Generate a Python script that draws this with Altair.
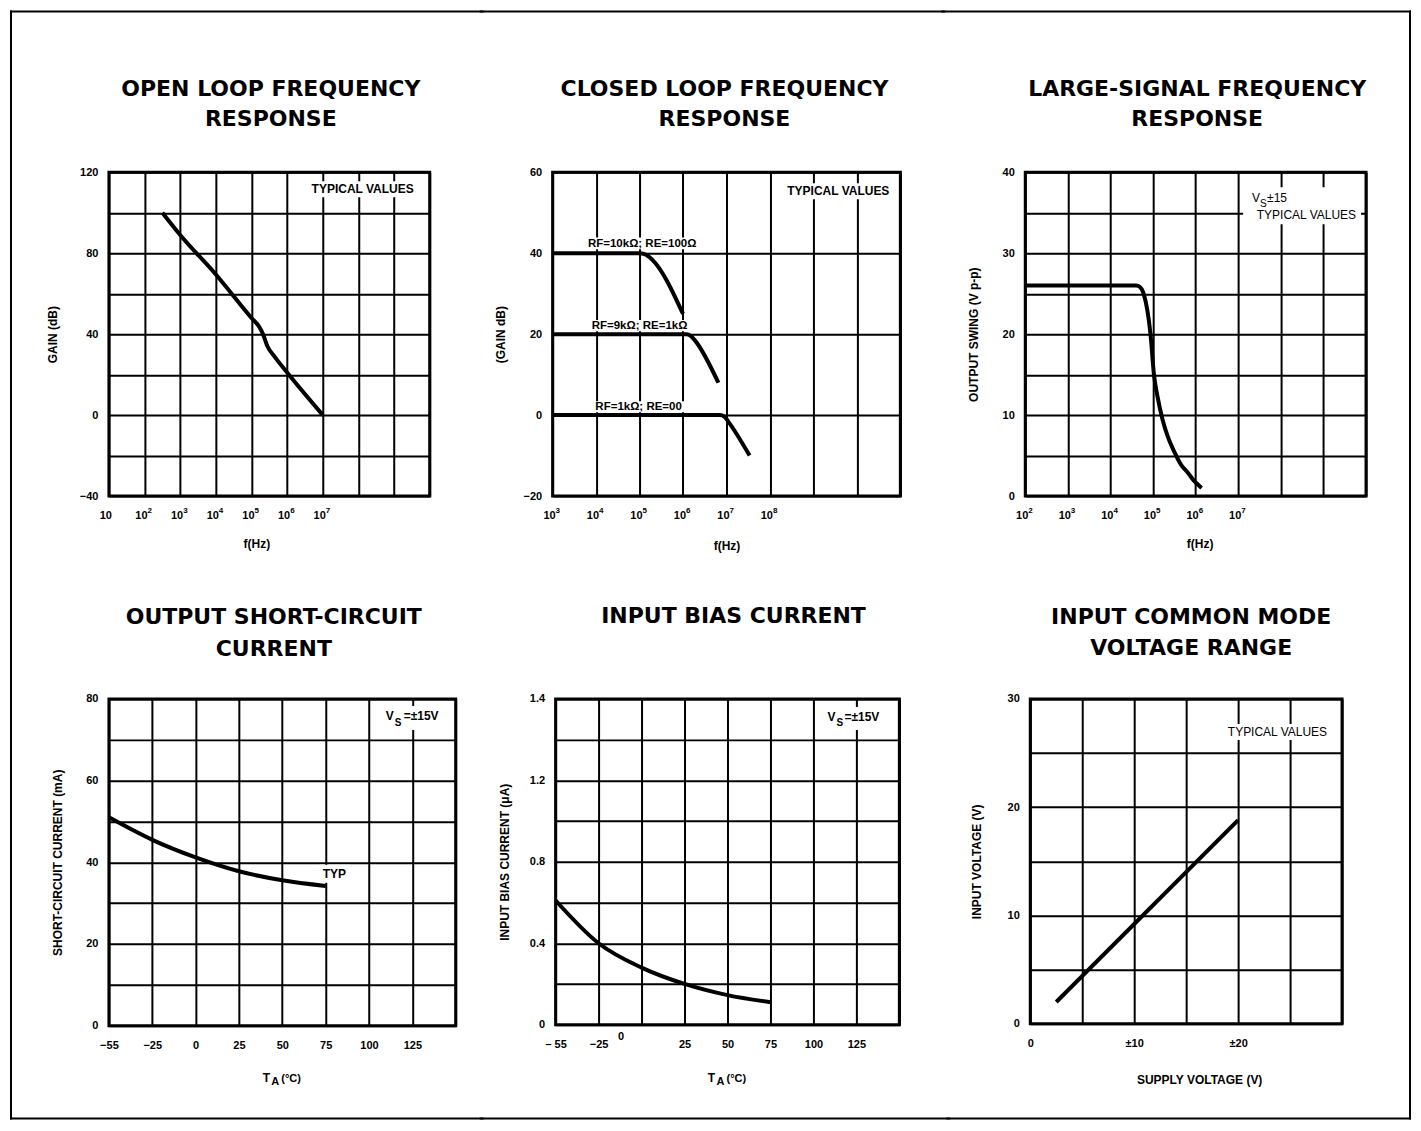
import json
import altair as alt
import pandas as pd

FONT = "Liberation Sans"
TFONT = "DejaVu Sans"

# ---------------- data ----------------
# 1. Open loop frequency response
ol_freq = [316, 1e3, 1e4, 1e5, 1.66e5, 2.1e5, 2.8e5, 4.4e5, 1e6, 1e7]
ol_gain = [100, 89, 69.5, 48, 43.5, 40, 34, 29, 21, 0]
ol_xvals = [1e1, 1e2, 1e3, 1e4, 1e5, 1e6, 1e7, 1e8, 1e9, 1e10]
ol_lab_f = [1e1, 1e2, 1e3, 1e4, 1e5, 1e6, 1e7]
ol_lab_exp = ["", "2", "3", "4", "5", "6", "7"]
ol_yvals = [-40, -20, 0, 20, 40, 60, 80, 100, 120]
ol_ylabels = ["−40", "", "0", "", "40", "", "80", "", "120"]

# 2. Closed loop frequency response
cl_names = ["RF=10kΩ; RE=100Ω", "RF=9kΩ; RE=1kΩ", "RF=1kΩ; RE=00"]
cl_freq_a = [1e3, 1e5, 1.3e5, 1.6e5, 2e5, 1e6]
cl_gain_a = [40, 40, 39.8, 39.2, 38.3, 25]
cl_freq_b = [1e3, 1.2e6, 1.5e6, 1.9e6, 6.5e6]
cl_gain_b = [20, 20, 19.6, 18.4, 8]
cl_freq_c = [1e3, 7e6, 9e6, 1.1e7, 3.4e7]
cl_gain_c = [0, 0, -0.4, -1.6, -10]
cl_label_f = [1.15e5, 1.0e5, 0.95e5]
cl_label_g = [42.4, 22.05, 2.05]
cl_mask_f0 = [5.0e3, 6.0e3, 6.6e3]
cl_mask_f1 = [2.6e6, 1.66e6, 1.45e6]
cl_mask_g0 = [41.0, 20.7, 0.7]
cl_mask_g1 = [43.9, 23.5, 3.4]
cl_xvals = [1e3, 1e4, 1e5, 1e6, 1e7, 1e8, 1e9, 1e10, 1e11]
cl_lab_f = [1e3, 1e4, 1e5, 1e6, 1e7, 1e8]
cl_lab_exp = ["3", "4", "5", "6", "7", "8"]
cl_yvals = [-20, 0, 20, 40, 60]
cl_ylabels = ["−20", "0", "20", "40", "60"]

# 3. Large-signal frequency response
ls_freq = [1e2, 1e3, 1e4, 4e4, 5e4, 6e4, 8.7e4, 1.05e5, 1.26e5, 1.66e5, 2.2e5,
           3.2e5, 4.5e5, 6.5e5, 9.1e5, 1.38e6]
ls_swing = [26, 26, 26, 26, 25.8, 25, 20, 15, 12.4, 9.5, 7.4, 5.4, 3.9, 2.9, 1.9, 1.0]
ls_xvals = [1e2, 1e3, 1e4, 1e5, 1e6, 1e7, 1e8, 1e9, 1e10]
ls_lab_f = [1e2, 1e3, 1e4, 1e5, 1e6, 1e7]
ls_lab_exp = ["2", "3", "4", "5", "6", "7"]
ls_yvals = [0, 5, 10, 15, 20, 25, 30, 35, 40]
ls_ylabels = ["0", "", "10", "", "20", "", "30", "", "40"]

# 4. Output short-circuit current
sc_temp = [-55, -25, 0, 25, 50, 75]
sc_current = [51, 45.5, 41.2, 37.8, 35.6, 34.2]
t_xvals = [-55, -25, 0, 25, 50, 75, 100, 125, 150]
sc_xlabels = ["−55", "−25", "0", "25", "50", "75", "100", "125", ""]
sc_yvals = [0, 10, 20, 30, 40, 50, 60, 70, 80]
sc_ylabels = ["0", "", "20", "", "40", "", "60", "", "80"]

# 5. Input bias current
ib_temp = [-55, -25, 0, 25, 50, 75]
ib_current = [0.61, 0.40, 0.28, 0.20, 0.145, 0.11]
ib_xlabels = ["– 55", "−25", "0", "25", "50", "75", "100", "125", ""]
ib_yvals = [0, 0.2, 0.4, 0.6, 0.8, 1.0, 1.2, 1.3, 1.4]
ib_ylabels = ["0", "", "0.4", "", "0.8", "", "1.2", "", "1.4"]

# 6. Input common mode voltage range
cm_supply = [2.5, 20]
cm_input = [2, 18.8]
cm_xvals = [0, 5, 10, 15, 20, 25, 30]
cm_xlabels = ["0", "", "±10", "", "±20", "", ""]
cm_yvals = [0, 5, 10, 15, 20, 25, 30]
cm_ylabels = ["0", "", "10", "", "20", "", "30"]

titles = [["OPEN LOOP FREQUENCY", "RESPONSE"],
          ["CLOSED LOOP FREQUENCY", "RESPONSE"],
          ["LARGE-SIGNAL FREQUENCY", "RESPONSE"],
          ["OUTPUT SHORT-CIRCUIT", "CURRENT"],
          ["INPUT BIAS CURRENT"],
          ["INPUT COMMON MODE", "VOLTAGE RANGE"]]

# ---------------- layout ----------------
W1, H1 = 321, 324
W2, H2 = 348, 324
W3, H3 = 341, 324
W4, H4 = 347, 327
W5, H5 = 344, 326
W6, H6 = 312, 325

# plot origins on the page, and the frame / cell edges on the page
ORG = [(108, 171), (550, 171), (1021, 171), (108, 696), (553, 696), (1026, 696)]
COLS1 = [8, 480, 940, 1408]
COLS2 = [8, 480, 945, 1408]
ROWS = [8, 580, 1118]
E = 2   # bounds growth of a 2px rule
OV = 4  # overlap of frame pieces at joints (taken back by a negative spacing)

LINE = dict(color="black", strokeWidth=4, interpolate="monotone")


def lab_expr(values, labels):
    return "%s[indexof(%s, datum.value)]" % (
        json.dumps(labels, ensure_ascii=False), json.dumps(values))


def x_axis(values, labels, title, W, dx=0, ty=47, **kw):
    if labels is None:
        return alt.Axis(values=values, labels=False, title=title,
                        titleX=W / 2 + dx, titleY=ty, titleAlign="center",
                        titleBaseline="middle", **kw)
    return alt.Axis(values=values, labelExpr=lab_expr(values, labels), title=title,
                    titleX=W / 2 + dx, titleY=ty, titleAlign="center",
                    titleBaseline="middle", labelPadding=14, **kw)


def y_axis(values, labels, title, H, tx=-54, **kw):
    return alt.Axis(values=values, labelExpr=lab_expr(values, labels), title=title,
                    titleX=tx, titleY=H / 2, titleAlign="center", titleBaseline="middle",
                    titleAngle=270, labelPadding=11, **kw)


def one():
    return alt.Data(values=[{}])


def ptext(txt, x, y, size=11, align="left", weight="bold", font=FONT):
    return alt.Chart(one()).mark_text(
        text=txt, align=align, baseline="middle", fontSize=size, fontWeight=weight,
        font=font, color="black").encode(x=alt.value(x), y=alt.value(y))


def mask(x0, x1, y0, y1):
    return alt.Chart(one()).mark_rect(color="white").encode(
        x=alt.value(x0), x2=alt.value(x1), y=alt.value(y0), y2=alt.value(y1))


def hrule(org, y, xa, xb, color="black"):
    ox, oy = org
    return alt.Chart(one()).mark_rule(color=color, strokeWidth=2, strokeCap="square").encode(
        x=alt.value(xa - ox), x2=alt.value(xb - ox), y=alt.value(y - oy))


def vrule(org, x, ya, yb, color="black"):
    ox, oy = org
    return alt.Chart(one()).mark_rule(color=color, strokeWidth=2, strokeCap="square").encode(
        x=alt.value(x - ox), y=alt.value(ya - oy), y2=alt.value(yb - oy))


def heading(lines, cx, ys):
    return [ptext(t, cx, y, size=22, align="center", font=TFONT) for t, y in zip(lines, ys)]


def pow_labels(X, H, freqs, exps):
    """Tick labels '10' with a raised exponent, placed through the x scale."""
    d = pd.DataFrame({"f": freqs, "b": ["10"] * len(freqs), "e": exps})
    base = alt.Chart(d).mark_text(align="right", baseline="middle", dx=3, fontSize=11,
                                  fontWeight="bold", font=FONT, color="black").encode(
        x=X, y=alt.value(H + 20), text="b:N")
    sup = alt.Chart(d).mark_text(align="left", baseline="middle", dx=3, fontSize=8,
                                 fontWeight="bold", font=FONT, color="black").encode(
        x=X, y=alt.value(H + 15), text="e:N")
    return [base, sup]


# ---- panel 1 ----
o = ORG[0]
sx1 = alt.Scale(type="log", domain=[10, 1e10], nice=False)
sy1 = alt.Scale(domain=[-40, 120], nice=False, zero=False)
ax1 = x_axis(ol_xvals, None, "f(Hz)", W1, dx=-13)
ay1 = y_axis(ol_yvals, ol_ylabels, "GAIN (dB)", H1, tx=-56)
X1 = alt.X("f:Q", scale=sx1, axis=ax1)
df1 = pd.DataFrame({"f": ol_freq, "g": ol_gain})
line1 = alt.Chart(df1).mark_line(**LINE).encode(
    x=X1, y=alt.Y("g:Q", scale=sy1, axis=ay1))
p1 = alt.layer(
    mask(198, 309, 9, 25), line1, *pow_labels(X1, H1, ol_lab_f, ol_lab_exp),
    ptext("TYPICAL VALUES", 305, 17, size=12, align="right"),
    *heading(titles[0], 162, [-83, -53]),
    vrule(o, COLS1[0] + E, ROWS[0] + E, ROWS[1] - E + OV),
    hrule(o, ROWS[0] + E, COLS1[0] + E, COLS1[1] - E + OV),
).properties(width=W1, height=H1)

# ---- panel 2 ----
o = ORG[1]
sx2 = alt.Scale(type="log", domain=[1e3, 1e11], nice=False)
sy2 = alt.Scale(domain=[-20, 60], nice=False, zero=False)
ax2 = x_axis(cl_xvals, None, "f(Hz)", W2, dx=0, ty=49)
ay2 = y_axis(cl_yvals, cl_ylabels, "(GAIN dB)", H2, tx=-52)
rows = []
for name, fs, gs in zip(cl_names, [cl_freq_a, cl_freq_b, cl_freq_c],
                        [cl_gain_a, cl_gain_b, cl_gain_c]):
    rows += [{"s": name, "f": f, "g": g} for f, g in zip(fs, gs)]
df2 = pd.DataFrame(rows)
lab2 = pd.DataFrame({"s": cl_names, "f": cl_label_f, "g": cl_label_g})
msk2 = pd.DataFrame({"f": cl_mask_f0, "f2": cl_mask_f1, "g": cl_mask_g0, "g2": cl_mask_g1})
X2 = alt.X("f:Q", scale=sx2, axis=ax2)
Y2 = alt.Y("g:Q", scale=sy2, axis=ay2)
mask2 = alt.Chart(msk2).mark_rect(color="white").encode(x=X2, x2="f2:Q", y=Y2, y2="g2:Q")
line2 = alt.Chart(df2).mark_line(**LINE).encode(x=X2, y=Y2, detail="s:N")
text2 = alt.Chart(lab2).mark_text(font=FONT, fontSize=11.5, fontWeight="bold", color="black",
                                  align="center", baseline="middle").encode(x=X2, y=Y2, text="s:N")
p2 = alt.layer(
    mask(225, 341, 11, 27), mask2, line2, text2,
    *pow_labels(X2, H2, cl_lab_f, cl_lab_exp),
    ptext("TYPICAL VALUES", 337, 19, size=12, align="right"),
    *heading(titles[1], 172, [-83, -53]),
    hrule(o, ROWS[0] + E, COLS1[1] + E - OV, COLS1[2] - E + OV),
).properties(width=W2, height=H2)

# ---- panel 3 ----
o = ORG[2]
sx3 = alt.Scale(type="log", domain=[1e2, 1e10], nice=False)
sy3 = alt.Scale(domain=[0, 40], nice=False, zero=False)
ax3 = x_axis(ls_xvals, None, "f(Hz)", W3, dx=4)
ay3 = y_axis(ls_yvals, ls_ylabels, "OUTPUT SWING (V p-p)", H3, tx=-52)
X3 = alt.X("f:Q", scale=sx3, axis=ax3)
df3 = pd.DataFrame({"f": ls_freq, "v": ls_swing})
line3 = alt.Chart(df3).mark_line(**LINE).encode(
    x=X3, y=alt.Y("v:Q", scale=sy3, axis=ay3))
p3 = alt.layer(
    mask(218, 336, 15, 52), line3, *pow_labels(X3, H3, ls_lab_f, ls_lab_exp),
    ptext("V", 227, 26, size=12, weight="normal"),
    ptext("S", 235, 32, size=10, weight="normal"),
    ptext("±15", 242, 26, size=12, weight="normal"),
    ptext("TYPICAL VALUES", 331, 43, size=12, align="right", weight="normal"),
    *heading(titles[2], 172, [-83, -53]),
    hrule(o, ROWS[0] + E, COLS1[2] + E - OV, COLS1[3] - E),
    vrule(o, COLS1[3] - E, ROWS[0] + E, ROWS[1] - E + OV),
).properties(width=W3, height=H3)

# ---- panel 4 ----
o = ORG[3]
sx4 = alt.Scale(domain=[-55, -25, 150], range=[0, W4 / 8, W4], nice=False, zero=False)
sy4 = alt.Scale(domain=[0, 80], nice=False, zero=False)
ax4 = x_axis(t_xvals, sc_xlabels, "", W4)
ay4 = y_axis(sc_yvals, sc_ylabels, "SHORT-CIRCUIT CURRENT (mA)", H4, tx=-51)
df4 = pd.DataFrame({"t": sc_temp, "c": sc_current})
line4 = alt.Chart(df4).mark_line(**LINE).encode(
    x=alt.X("t:Q", scale=sx4, axis=ax4), y=alt.Y("c:Q", scale=sy4, axis=ay4))
cx4 = W4 / 2
p4 = alt.layer(
    mask(273, 336, 7, 31), mask(211, 241, 166, 184), line4,
    ptext("V", 277, 17, size=12), ptext("S", 286, 24, size=10),
    ptext("=±15V", 295, 17, size=12),
    ptext("TYP", 214, 175, size=12),
    ptext("T", cx4 - 16, H4 + 52, size=12, align="center"),
    ptext("A", cx4 - 7, H4 + 56, size=11, align="center"),
    ptext("(°C)", cx4 - 1, H4 + 53, size=11),
    *heading(titles[3], 165, [-82, -50]),
    vrule(o, COLS2[0] + E, ROWS[1] + E - OV, ROWS[2] - E),
    hrule(o, ROWS[2] - E, COLS2[0] + E, COLS2[1] - E + OV),
).properties(width=W4, height=H4)

# ---- panel 5 ----
o = ORG[4]
sx5 = alt.Scale(domain=[-55, -25, 150], range=[0, W5 / 8, W5], nice=False, zero=False)
sy5 = alt.Scale(domain=[0, 1.2, 1.4], range=[H5, H5 / 4, 0], nice=False, zero=False)
ax5 = alt.Axis(values=t_xvals, labelExpr=lab_expr(t_xvals, ib_xlabels), title="",
               labelPadding={"condition": {"test": "datum.value === 0", "value": 6}, "value": 14},
               labelOffset={"condition": {"test": "datum.value === 0", "value": -21}, "value": 0})
ay5 = y_axis(ib_yvals, ib_ylabels, "INPUT BIAS CURRENT (μA)", H5, tx=-51)
df5 = pd.DataFrame({"t": ib_temp, "i": ib_current})
line5 = alt.Chart(df5).mark_line(**LINE).encode(
    x=alt.X("t:Q", scale=sx5, axis=ax5), y=alt.Y("i:Q", scale=sy5, axis=ay5))
cx5 = W5 / 2
p5 = alt.layer(
    mask(268, 333, 8, 31), line5,
    ptext("V", 272, 18, size=12), ptext("S", 281, 24, size=10),
    ptext("=±15V", 289, 18, size=12),
    ptext("T", cx5 - 16, H5 + 53, size=12, align="center"),
    ptext("A", cx5 - 7, H5 + 57, size=11, align="center"),
    ptext("(°C)", cx5 - 1, H5 + 54, size=11),
    *heading(titles[4], 178, [-83]),
    hrule(o, ROWS[1] + E - OV, COLS2[1] + E, COLS2[2] - E, color="white"),
    hrule(o, ROWS[2] - E, COLS2[1] + E - OV, COLS2[2] - E + OV),
).properties(width=W5, height=H5)

# ---- panel 6 ----
o = ORG[5]
sx6 = alt.Scale(domain=[0, 30], nice=False, zero=False)
sy6 = alt.Scale(domain=[0, 30], nice=False, zero=False)
ax6 = x_axis(cm_xvals, cm_xlabels, "SUPPLY VOLTAGE (V)", W6, dx=13, ty=56)
ay6 = y_axis(cm_yvals, cm_ylabels, "INPUT VOLTAGE (V)", H6, tx=-54)
df6 = pd.DataFrame({"s": cm_supply, "v": cm_input})
line6 = alt.Chart(df6).mark_line(color="black", strokeWidth=4).encode(
    x=alt.X("s:Q", scale=sx6, axis=ax6), y=alt.Y("v:Q", scale=sy6, axis=ay6))
p6 = alt.layer(
    mask(186, 301, 25, 41), line6,
    ptext("TYPICAL VALUES", 297, 33, size=12, align="right", weight="normal"),
    *heading(titles[5], 161, [-82, -51]),
    hrule(o, ROWS[2] - E, COLS2[2] + E - OV, COLS2[3] - E),
    vrule(o, COLS2[3] - E, ROWS[1] + E - OV, ROWS[2] - E),
).properties(width=W6, height=H6)

row1 = alt.hconcat(p1, p2, p3, spacing=-2 * OV)
row2 = alt.hconcat(p4, p5, p6, spacing=-2 * OV)

chart = alt.vconcat(row1, row2, spacing=-2 * OV).properties(
    padding=0, background="white"
).configure_view(
    stroke="black", strokeWidth=3
).configure_axis(
    grid=True, gridColor="black", gridWidth=2, gridOpacity=1,
    ticks=False, tickSize=0, domain=False,
    labelFlush=False, labelOverlap=False, labelBound=False,
    labelFont=FONT, labelFontSize=11, labelFontWeight="bold", labelColor="black",
    titleFont=FONT, titleFontSize=12, titleFontWeight="bold", titleColor="black"
)

chart.save("out.html", embed_options={"renderer": "svg", "actions": False})
